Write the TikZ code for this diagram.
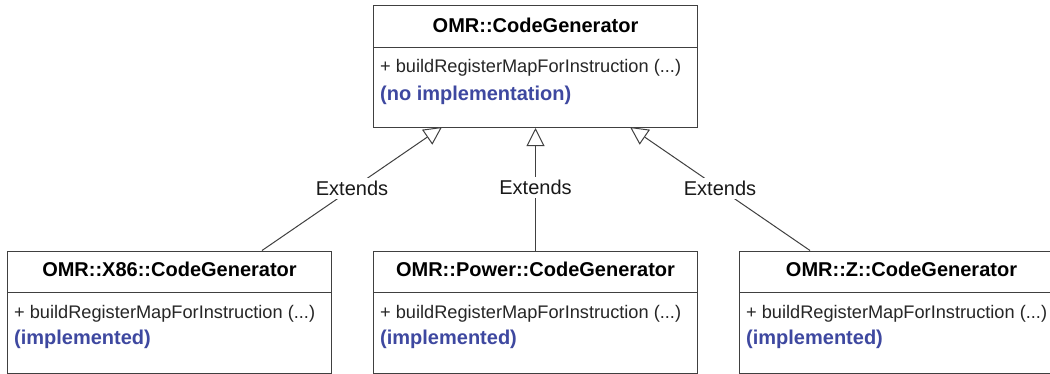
\documentclass[tikz,border=0pt]{standalone}
\usepackage{fontspec}
\setmainfont{Liberation Sans}
\usetikzlibrary{arrows.meta,calc}
\definecolor{edge}{RGB}{64,64,64}
\definecolor{note}{RGB}{62,72,160}
\tikzset{
  classbox/.style={draw=edge, line width=1pt, minimum width=324pt, minimum height=122pt,
    inner sep=0pt, anchor=north west},
  divider/.style={draw=edge, line width=1pt},
  classname/.style={font=\fontsize{20}{23}\selectfont\bfseries, text=black, inner sep=0pt, anchor=base},
  member/.style={font=\fontsize{18.2}{21}\selectfont, text=black!85, inner sep=0pt, anchor=base west},
  remark/.style={font=\fontsize{20}{23}\selectfont\bfseries, text=note, inner sep=0pt, anchor=base west},
  extends/.style={draw=edge, line width=1pt, -{Triangle[open, fill=white, length=18pt, width=18pt]}},
  lbl/.style={fill=white, font=\fontsize{20}{23}\selectfont, inner sep=3pt, text=black!90}
}
\begin{document}
\begin{tikzpicture}[x=1pt, y=-1pt]
  \useasboundingbox (0,0) rectangle (1050,373);
  \clip (0,0) rectangle (1050,373);
  \fill[white] (0,0) rectangle (1050,373);

  % base class
  \node[classbox] (base) at (373,5) {};
  \draw[divider] ($(base.north west)+(0,42)$) -- ($(base.north east)+(0,42)$);
  \node[classname] (baseName) at ($(base.north)+(0,27)$) {OMR::CodeGenerator};
  \node[member] (baseOp) at ($(base.north west)+(7,67)$) {+ buildRegisterMapForInstruction (...)};
  \node[remark] (baseNote) at ($(base.north west)+(7,95)$) {(no implementation)};

  % derived classes
  \foreach \nm/\px/\title in {x86/7/OMR::X86::CodeGenerator,
                              power/373/OMR::Power::CodeGenerator,
                              z/739/OMR::Z::CodeGenerator}{
    \node[classbox] (\nm) at (\px,250.5) {};
    \draw[divider] ($(\nm.north west)+(0,42)$) -- ($(\nm.north east)+(0,42)$);
    \node[classname] (\nm Name) at ($(\nm.north)+(0,26)$) {\title};
    \node[member] (\nm Op) at ($(\nm.north west)+(7,68)$) {+ buildRegisterMapForInstruction (...)};
    \node[remark] (\nm Note) at ($(\nm.north west)+(7,94)$) {(implemented)};
  }

  % generalisation end points on the class borders
  \coordinate (x86Top) at (262,250.5);
  \coordinate (zTop) at (810,250.5);
  \coordinate (baseL) at (442,127);
  \coordinate (baseR) at (630,127);

  \draw[extends] (x86Top) -- node[lbl] {Extends} (baseL);
  \draw[extends] (power.north) -- node[lbl, yshift=1.5pt] {Extends} (base.south);
  \draw[extends] (zTop) -- node[lbl] {Extends} (baseR);
\end{tikzpicture}
\end{document}
